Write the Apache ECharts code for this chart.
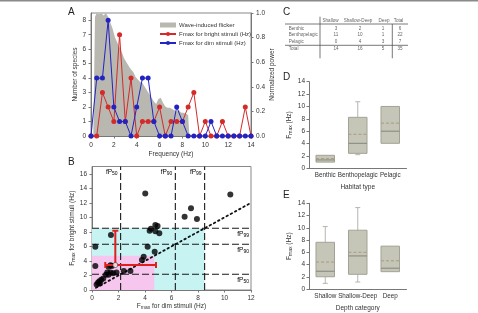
<!DOCTYPE html>
<html lang="en">
<head>
<meta charset="UTF-8">
<title>Flicker fusion</title>
<script src="https://cdn.jsdelivr.net/npm/echarts@6/dist/echarts.min.js"></script>
<style>
  html, body { margin: 0; padding: 0; background: #fff; }
  #main { width: 478px; height: 313px; }
</style>
</head>
<body>
<div id="main"></div>
<script>
// ---- panel A : frequency distribution
var freqX = [0,0.5,1,1.5,2,2.5,3,3.5,4,4.5,5,5.5,6,6.5,7,7.5,8,8.5,9,9.5,10,10.5,11,11.5,12,12.5,13,13.5,14];
var brightCounts = [0,0,3,2,1,7,1,4,0,1,1,1,2,0,1,1,1,2,3,0,1,0,0,1,0,0,0,2,0];
var dimCounts = [0,4,4,8,2,1,1,0,2,4,4,1,0,0,0,2,1,0,0,0,0,1,0,0,0,0,0,0,0];
var flickerX = [0,0.2,0.35,0.5,0.7,0.9,1.1,1.3,1.5,1.7,1.9,2.1,2.3,2.5,2.7,2.9,3.1,3.3,3.5,3.7,3.9,4.1,4.3,4.5,4.7,4.9,5.1,5.3,5.5,5.7,5.9,6.1,6.3,6.5,6.7,6.9,7.1,7.3,7.5,7.7,7.9,8.1,8.3,8.5,8.6,8.61];
var flickerPower = [0,0,0.97,1.0,0.99,1.0,0.98,1.0,0.97,0.92,0.87,0.8,0.76,0.72,0.68,0.63,0.6,0.57,0.54,0.52,0.48,0.46,0.44,0.43,0.40,0.37,0.34,0.31,0.28,0.26,0.30,0.31,0.27,0.24,0.23,0.23,0.22,0.21,0.20,0.21,0.19,0.19,0.18,0.17,0.16,0];

// ---- panel B : dim vs bright Fmax per species
var dimFmax = [10.44,7.47,6.99,7.92,4.02,4.78,4.95,4.45,4.35,4.78,5.08,4.73,4.2,3.9,3.77,1.43,0.25,0.25,1.25,1.4,1.5,2.4,2.9,0.35,0.45,0.55,0.6,0.7,0.85,1.05,1.15,1.25,1.4,1.6,1.85];
var brightFmax = [13.16,11.24,10.08,9.76,13.3,8.94,8.8,8.43,8.16,8.1,7.8,5.27,5.96,4.58,4.13,7.56,5.96,3.3,3.2,3.4,3.3,2.6,2.6,0.75,1.0,1.2,0.9,1.4,1.6,2.1,2.4,2.1,2.4,2.3,2.4];
var fpNames = ['50', '90', '99'];
var fpValues = [2.16, 6.29, 8.5];
var zoneSizes = [8.5, 4.7];
var zoneColors = ['#c8f3f3', '#f6c6ee'];
// [mean dim, mean bright, dim low, dim high, bright high]
var errorBar = [[1.76, 3.44, 1.0, 4.83, 8.16]];

// ---- panel C : table
var tableCols = ['Shallow', 'Shallow-Deep', 'Deep', 'Total'];
var tableRows = ['Benthic', 'Benthopelagic', 'Pelagic', 'Total'];
var tableValues = [[3,2,1,6],[11,10,1,22],[0,4,3,7],[14,16,5,35]];

// ---- panels D, E : boxes [low, q1, median, q3, high, mean]
var habitatTypes = ['Benthic', 'Benthopelagic', 'Pelagic'];
var habitatBox = [[1.0,1.0,1.35,2.1,2.1,1.55],[2.2,2.42,4.04,8.24,10.76,5.5],[4.04,4.04,6.0,10.0,10.0,7.3]];
var depthTypes = ['Shallow', 'Shallow-Deep', 'Deep'];
var depthBox = [[0.92,2.0,2.9,7.63,10.2,4.4],[1.14,2.4,5.4,9.6,13.3,6.0],[2.83,2.83,3.4,7.0,7.0,4.6]];

var FONT = 'Liberation Sans, Arial, sans-serif';
var TXT = '#333';
var subRich = {
  n: { fontSize: 6.5, color: TXT, fontFamily: FONT },
  s: { fontSize: 5, color: TXT, fontFamily: FONT, verticalAlign: 'bottom', padding: [3, 0, 0, 0] }
};

function ax(extra) {
  var o = {
    axisLine: { show: true, lineStyle: { color: '#777', width: 1 } },
    axisTick: { show: true, length: 2.5, lineStyle: { color: '#777' } },
    axisLabel: { fontSize: 6.5, color: TXT, fontFamily: FONT, margin: 5 },
    splitLine: { show: false },
    nameTextStyle: { fontSize: 6.5, color: TXT, fontFamily: FONT, rich: subRich }
  };
  for (var k in extra) {
    if (typeof extra[k] === 'object' && o[k] && !Array.isArray(extra[k])) {
      for (var j in extra[k]) o[k][j] = extra[k][j];
    } else o[k] = extra[k];
  }
  return o;
}

function pairs(xs, ys) {
  return xs.map(function (x, i) { return [x, ys[i]]; });
}

function zoneItem(params, api) {
  var p0 = api.coord([0, 0]);
  var p1 = api.coord([api.value(0), api.value(1)]);
  return { type: 'rect', shape: { x: p0[0], y: p1[1], width: p1[0] - p0[0], height: p0[1] - p1[1] },
    style: { fill: zoneColors[params.dataIndex] } };
}

var fpRich = {
  a: { fontSize: 6.5, color: TXT, fontFamily: FONT },
  b: { fontSize: 5, color: TXT, fontFamily: FONT, verticalAlign: 'bottom', padding: [3, 0, 0, 0] }
};
function thresholdItem(params, api) {
  var v = api.value(0);
  var top = api.coord([v, 17]), bot = api.coord([v, 0]);
  var left = api.coord([0, v]), right = api.coord([12, v]);
  var txt = '{a|fP}{b|' + fpNames[params.dataIndex] + '}';
  var dash = { stroke: '#1a1a1a', lineWidth: 1.1, lineDash: [7, 3] };
  return { type: 'group', children: [
    { type: 'line', shape: { x1: bot[0], y1: bot[1], x2: top[0], y2: top[1] }, style: dash },
    { type: 'line', shape: { x1: left[0], y1: left[1], x2: right[0], y2: right[1] }, style: dash },
    { type: 'text', x: top[0] - 3, y: top[1] + 2, style: { text: txt, rich: fpRich, align: 'right', verticalAlign: 'top' } },
    { type: 'text', x: right[0] - 2, y: right[1] + 2, style: { text: txt, rich: fpRich, align: 'right', verticalAlign: 'top' } }
  ] };
}

function errorItem(params, api) {
  var c = api.coord([api.value(0), api.value(1)]);
  var lo = api.coord([api.value(2), api.value(1)]);
  var hi = api.coord([api.value(3), api.value(1)]);
  var up = api.coord([api.value(0), api.value(4)]);
  var st = { stroke: '#e0201c', lineWidth: 2 };
  var cap = 3;
  return { type: 'group', children: [
    { type: 'line', shape: { x1: lo[0], y1: lo[1], x2: hi[0], y2: hi[1] }, style: st },
    { type: 'line', shape: { x1: lo[0], y1: lo[1] - cap, x2: lo[0], y2: lo[1] + cap }, style: st },
    { type: 'line', shape: { x1: hi[0], y1: hi[1] - cap, x2: hi[0], y2: hi[1] + cap }, style: st },
    { type: 'line', shape: { x1: c[0], y1: c[1], x2: up[0], y2: up[1] }, style: st },
    { type: 'line', shape: { x1: up[0] - cap, y1: up[1], x2: up[0] + cap, y2: up[1] }, style: st }
  ] };
}

function boxItem(params, api) {
  var x = api.value(0);
  var lo = api.coord([x, api.value(1)]), q1 = api.coord([x, api.value(2)]);
  var med = api.coord([x, api.value(3)]), q3 = api.coord([x, api.value(4)]);
  var hi = api.coord([x, api.value(5)]), mean = api.coord([x, api.value(6)]);
  var w = api.size([1, 0])[0] * 0.57;
  var l = q1[0] - w / 2, r = q1[0] + w / 2;
  var wk = { stroke: '#b5b5b0', lineWidth: 1 };
  var ch = [];
  if (api.value(5) > api.value(4)) {
    ch.push({ type: 'line', shape: { x1: hi[0], y1: hi[1], x2: q3[0], y2: q3[1] }, style: wk });
    ch.push({ type: 'line', shape: { x1: hi[0] - 2.5, y1: hi[1], x2: hi[0] + 2.5, y2: hi[1] }, style: wk });
  }
  if (api.value(1) < api.value(2)) {
    ch.push({ type: 'line', shape: { x1: lo[0], y1: lo[1], x2: q1[0], y2: q1[1] }, style: wk });
    ch.push({ type: 'line', shape: { x1: lo[0] - 2.5, y1: lo[1], x2: lo[0] + 2.5, y2: lo[1] }, style: wk });
  }
  ch.push({ type: 'rect', shape: { x: l, y: q3[1], width: w, height: q1[1] - q3[1] },
    style: { fill: '#c6c6b8', stroke: '#a2a296', lineWidth: 1 } });
  ch.push({ type: 'line', shape: { x1: l, y1: med[1], x2: r, y2: med[1] }, style: { stroke: '#85857a', lineWidth: 1 } });
  ch.push({ type: 'line', shape: { x1: l, y1: mean[1], x2: r, y2: mean[1] }, style: { stroke: '#a89a7c', lineWidth: 1, lineDash: [3, 2] } });
  return { type: 'group', children: ch };
}

var graphics = [
  { type: 'rect', left: 0, top: 0, shape: { width: 478, height: 1.5 }, style: { fill: '#8a8a8a' } },
  { type: 'text', left: 68, top: 7, style: { text: 'A', fontSize: 10, fill: '#222', fontFamily: FONT } },
  { type: 'text', left: 68, top: 157, style: { text: 'B', fontSize: 10, fill: '#222', fontFamily: FONT } },
  { type: 'text', left: 283, top: 7, style: { text: 'C', fontSize: 10, fill: '#222', fontFamily: FONT } },
  { type: 'text', left: 283, top: 72, style: { text: 'D', fontSize: 10, fill: '#222', fontFamily: FONT } },
  { type: 'text', left: 283, top: 190, style: { text: 'E', fontSize: 10, fill: '#222', fontFamily: FONT } }
];

// table C
var headX = [330.5, 358, 384, 398.5];
var valX = [336, 360, 383, 400];
var rowY = [28.3, 34.7, 41.3, 49];
var tStyle = { fontSize: 4.6, fill: '#666', fontFamily: FONT, verticalAlign: 'middle' };
tableCols.forEach(function (c, i) {
  graphics.push({ type: 'text', x: headX[i], y: 20.7, style: Object.assign({ text: c, align: 'center' }, tStyle) });
});
tableRows.forEach(function (rname, r) {
  graphics.push({ type: 'text', x: 288.7, y: rowY[r], style: Object.assign({ text: rname, align: 'left' }, tStyle) });
  tableValues[r].forEach(function (v, i) {
    graphics.push({ type: 'text', x: valX[i], y: rowY[r], style: Object.assign({ text: String(v), align: 'center' }, tStyle) });
  });
});
var tLine = { stroke: '#555', lineWidth: 0.8 };
graphics.push({ type: 'line', shape: { x1: 320, y1: 16.7, x2: 320, y2: 58.3 }, style: tLine });
graphics.push({ type: 'line', shape: { x1: 392.3, y1: 24, x2: 392.3, y2: 58.3 }, style: tLine });
graphics.push({ type: 'line', shape: { x1: 285, y1: 24, x2: 408, y2: 24 }, style: tLine });
graphics.push({ type: 'line', shape: { x1: 285, y1: 45.3, x2: 408, y2: 45.3 }, style: tLine });

var myChart = echarts.init(document.getElementById('main'));
var option = {
  animation: false,
  backgroundColor: '#fff',
  textStyle: { fontFamily: FONT },
  graphic: graphics,
  legend: {
    left: 154, top: 17, orient: 'vertical', itemGap: 3, itemWidth: 16, itemHeight: 5,
    textStyle: { fontSize: 6, color: TXT, fontFamily: FONT, lineHeight: 6, padding: [0, 0, 0, -2] },
    data: [{ name: 'Wave-induced flicker', icon: 'rect' }, 'Fmax for bright stimuli (Hz)', 'Fmax for dim stimuli (Hz)']
  },
  grid: [
    { left: 91, top: 13, width: 160, height: 123, show: true, borderColor: '#888', borderWidth: 1 },
    { left: 92, top: 166.5, width: 159, height: 123.5, show: true, borderColor: '#888', borderWidth: 1 },
    { left: 309, top: 81.7, width: 97.5, height: 86.6 },
    { left: 309, top: 203.3, width: 97.5, height: 85.7 }
  ],
  xAxis: [
    ax({ gridIndex: 0, type: 'value', min: 0, max: 14, interval: 2, axisLabel: { margin: 6 },
      name: 'Frequency (Hz)', nameLocation: 'middle', nameGap: 14.5 }),
    ax({ gridIndex: 1, type: 'value', min: 0, max: 12, interval: 2, axisLabel: { margin: 5 },
      name: '{n|F}{s|max}{n| for dim stimuli (Hz)}', nameLocation: 'middle', nameGap: 12 }),
    ax({ gridIndex: 2, type: 'category', data: habitatTypes, axisTick: { show: false },
      axisLabel: { margin: 4, interval: 0, fontSize: 6.3 },
      name: 'Habitat type', nameLocation: 'middle', nameGap: 15 }),
    ax({ gridIndex: 3, type: 'category', data: depthTypes, axisTick: { show: false },
      axisLabel: { margin: 4.5, interval: 0, fontSize: 6.3 },
      name: 'Depth category', nameLocation: 'middle', nameGap: 15.5 })
  ],
  yAxis: [
    ax({ gridIndex: 0, type: 'value', min: 0, max: 8.5, interval: 1, axisLabel: { showMaxLabel: false },
      name: 'Number of species', nameLocation: 'middle', nameRotate: 90, nameGap: 12.5 }),
    ax({ gridIndex: 0, type: 'value', position: 'right', min: 0, max: 1, interval: 0.2,
      axisLabel: { formatter: function (v) { return v.toFixed(1); } },
      name: 'Normalized power', nameLocation: 'middle', nameRotate: 90, nameGap: 12.5 }),
    ax({ gridIndex: 1, type: 'value', min: 0, max: 17, interval: 2, axisLabel: { showMaxLabel: false },
      name: '{n|F}{s|max}{n| for bright stimuli (Hz)}', nameLocation: 'middle', nameRotate: 90, nameGap: 12.5 }),
    ax({ gridIndex: 2, type: 'value', min: 0, max: 14, interval: 2, axisLabel: { margin: 4 },
      name: '{n|F}{s|max}{n| (Hz)}', nameLocation: 'middle', nameRotate: 90, nameGap: 16 }),
    ax({ gridIndex: 3, type: 'value', min: 0, max: 14, interval: 2, axisLabel: { margin: 4 },
      name: '{n|F}{s|max}{n| (Hz)}', nameLocation: 'middle', nameRotate: 90, nameGap: 16 })
  ],
  series: [
    {
      name: 'Wave-induced flicker', type: 'line', xAxisIndex: 0, yAxisIndex: 1,
      data: pairs(flickerX, flickerPower), showSymbol: false, color: '#b8b8b0',
      itemStyle: { color: '#b8b8b0' }, lineStyle: { width: 0 }, areaStyle: { color: '#b8b8b0', opacity: 1 }, z: 1
    },
    {
      name: 'Fmax for bright stimuli (Hz)', type: 'line', xAxisIndex: 0, yAxisIndex: 0,
      data: pairs(freqX, brightCounts), symbol: 'circle', symbolSize: 5, color: '#d42a2a',
      lineStyle: { width: 1 }, z: 3
    },
    {
      name: 'Fmax for dim stimuli (Hz)', type: 'line', xAxisIndex: 0, yAxisIndex: 0,
      data: pairs(freqX, dimCounts), symbol: 'circle', symbolSize: 5, color: '#2323c2',
      lineStyle: { width: 1 }, z: 4
    },
    {
      type: 'custom', xAxisIndex: 1, yAxisIndex: 2, renderItem: zoneItem,
      data: zoneSizes.map(function (s) { return [s, s]; }), silent: true, z: 1
    },
    {
      type: 'custom', xAxisIndex: 1, yAxisIndex: 2, renderItem: thresholdItem,
      data: fpValues.map(function (v) { return [v]; }), silent: true, z: 2
    },
    {
      type: 'line', xAxisIndex: 1, yAxisIndex: 2, data: [[0.3, 0.3], [12, 12]], showSymbol: false,
      lineStyle: { color: '#111', width: 1.8, type: [1.6, 3.2], cap: 'round' }, z: 3
    },
    {
      type: 'scatter', xAxisIndex: 1, yAxisIndex: 2, data: pairs(dimFmax, brightFmax),
      symbolSize: 6, itemStyle: { color: '#000' }, z: 4
    },
    {
      type: 'custom', xAxisIndex: 1, yAxisIndex: 2, renderItem: errorItem, data: errorBar, z: 5
    },
    {
      type: 'scatter', xAxisIndex: 1, yAxisIndex: 2, data: errorBar.map(function (e) { return [e[0], e[1]]; }),
      symbolSize: 5, itemStyle: { color: '#fff', borderColor: '#333', borderWidth: 0.8 }, z: 6
    },
    {
      type: 'custom', xAxisIndex: 2, yAxisIndex: 3, renderItem: boxItem,
      encode: { x: 0, y: [1, 2, 3, 4, 5, 6] },
      data: habitatBox.map(function (b, i) { return [i].concat(b); })
    },
    {
      type: 'custom', xAxisIndex: 3, yAxisIndex: 4, renderItem: boxItem,
      encode: { x: 0, y: [1, 2, 3, 4, 5, 6] },
      data: depthBox.map(function (b, i) { return [i].concat(b); })
    }
  ]
};
myChart.setOption(option);
</script>
</body>
</html>
